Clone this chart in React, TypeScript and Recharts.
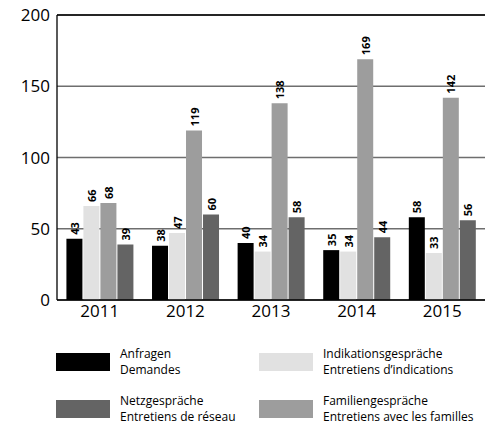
import React from "react";
import { Bar, BarChart, CartesianGrid, LabelList, ReferenceLine, XAxis, YAxis } from "recharts";

const years = ["2011", "2012", "2013", "2014", "2015"];
const anfragen = [43, 38, 40, 35, 58];
const indikation = [66, 47, 34, 34, 33];
const familien = [68, 119, 138, 169, 142];
const netz = [39, 60, 58, 44, 56];
const yTicks = [0, 50, 100, 150, 200];

const series = [
  { key: "anfragen", color: "#000000", de: "Anfragen", fr: "Demandes" },
  { key: "indikation", color: "#e1e1e1", de: "Indikationsgespräche", fr: "Entretiens d’indications" },
  { key: "familien", color: "#9d9d9d", de: "Familiengespräche", fr: "Entretiens avec les familles" },
  { key: "netz", color: "#646464", de: "Netzgespräche", fr: "Entretiens de réseau" },
];

// legend order in the picture: row 1 anfragen / indikation, row 2 netz / familien
const legendOrder = ["anfragen", "indikation", "netz", "familien"];

const data = years.map((year, i) => ({
  year,
  anfragen: anfragen[i],
  indikation: indikation[i],
  familien: familien[i],
  netz: netz[i],
}));

const FONT = "'Open Sans', 'Noto Sans', sans-serif";

const renderValue = (props: any) => {
  const { x, y, width, value } = props;
  const cx = x + width / 2;
  const ty = y - 4;
  return (
    <text
      x={cx}
      y={ty}
      transform={`rotate(-90 ${cx} ${ty})`}
      textAnchor="start"
      dominantBaseline="central"
      fontSize={11}
      fontWeight="bold"
      fontFamily={FONT}
      fill="#000"
    >
      {value}
    </text>
  );
};

function LegendBlock() {
  return (
    <div style={{ position: "absolute", left: 0, top: 346, width: 500, fontFamily: FONT, fontSize: 12, lineHeight: "16px", color: "#000" }}>
      {legendOrder.map((k, i) => {
        const s = series.find((v) => v.key === k)!;
        const col = i % 2;
        const row = Math.floor(i / 2);
        return (
          <div key={k} style={{ position: "absolute", left: col === 0 ? 56 : 259, top: row * 47, display: "flex", alignItems: "center" }}>
            <div style={{ width: 54, height: 18, background: s.color, marginRight: 10 }} />
            <div>
              <div>{s.de}</div>
              <div>{s.fr}</div>
            </div>
          </div>
        );
      })}
    </div>
  );
}

export default function App() {
  return (
    <div style={{ position: "absolute", left: 0, top: 0, width: 500, height: 430, background: "#fff" }}>
      <BarChart
        width={500}
        height={430}
        data={data}
        margin={{ top: 15, right: 15, left: 0, bottom: 100 }}
        barCategoryGap="11%"
        barGap={1}
      >
        <CartesianGrid vertical={false} stroke="#6e6e6e" strokeWidth={1.3} />
        <ReferenceLine y={200} stroke="#000" strokeWidth={1.3} />
        <XAxis
          dataKey="year"
          height={30}
          tickLine={false}
          tickSize={0}
          tickMargin={5}
          axisLine={{ stroke: "#000", strokeWidth: 1.3 }}
          tick={{ fill: "#000", fontSize: 17, fontFamily: FONT }}
        />
        <YAxis
          width={57}
          domain={[0, 200]}
          ticks={yTicks}
          tickLine={false}
          tickSize={0}
          tickMargin={7}
          axisLine={{ stroke: "#000", strokeWidth: 1.3 }}
          tick={{ fill: "#000", fontSize: 17, fontFamily: FONT }}
        />
        {series.map((s) => (
          <Bar key={s.key} dataKey={s.key} fill={s.color} isAnimationActive={false}>
            <LabelList dataKey={s.key} content={renderValue} />
          </Bar>
        ))}
      </BarChart>
      <LegendBlock />
    </div>
  );
}
